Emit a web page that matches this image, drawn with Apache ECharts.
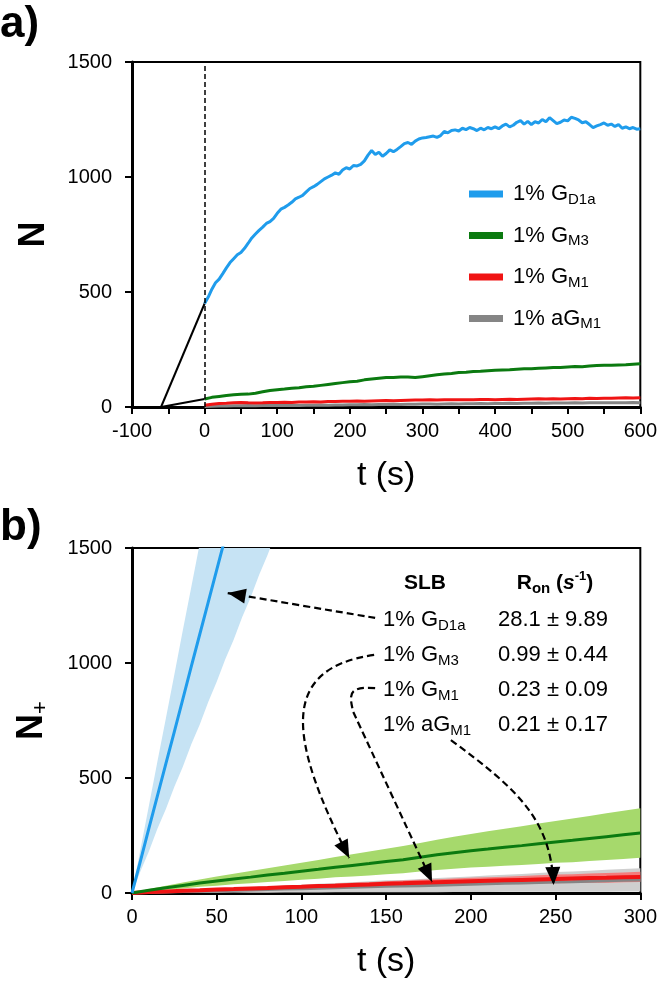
<!DOCTYPE html>
<html><head><meta charset="utf-8">
<script src="https://cdn.jsdelivr.net/npm/echarts@6/dist/echarts.min.js"></script>
<style>html,body{margin:0;padding:0;background:#fff}#c{width:660px;height:984px}</style>
</head><body><div id="c"></div><script>
const FONT = '"Liberation Sans", Arial, Helvetica, sans-serif';

// ---------- Panel a) : N vs t, t from 0 s ----------
const aStepBlue = 5;   // s between samples of the GD1a trace
const aStep = 10;      // s between samples of the other traces
const aGD1a = [450,478,512,540,556,580,605,628,645,662,
  672,690,712,735,752,768,782,798,806,820,
  842,860,868,878,890,905,912,920,935,950,
  958,968,980,992,1000,1008,1018,1012,1030,1040,
  1035,1050,1048,1055,1070,1095,1115,1098,1108,1090,
  1102,1118,1110,1120,1132,1145,1150,1142,1156,1165,
  1170,1172,1175,1178,1172,1180,1198,1192,1202,1205,
  1200,1212,1206,1215,1210,1202,1212,1205,1215,1210,
  1218,1210,1222,1230,1218,1225,1238,1245,1230,1242,
  1228,1240,1235,1250,1240,1258,1245,1232,1238,1248,
  1244,1260,1255,1248,1236,1240,1228,1215,1222,1228,
  1235,1225,1230,1220,1228,1212,1218,1210,1215,1208,
  1210];
const aGM3 = [35,42,46,50,53,55,56,60,66,72,
  75,78,82,84,88,90,94,98,102,106,
  110,112,118,122,125,128,128,130,130,128,
  132,136,140,143,146,150,151,154,155,158,
  160,161,162,164,166,166,168,170,172,172,
  174,176,175,178,180,181,182,183,184,186,
  188];
const aGM1 = [8,12,15,16,18,20,18,17,18,20,
  20,21,20,22,22,23,22,24,24,25,
  25,26,25,26,27,28,27,28,29,30,
  30,31,30,31,32,32,31,32,33,33,
  32,33,34,33,34,35,36,35,36,35,
  36,37,36,38,37,38,38,39,40,39,
  40];
const aAGM1 = [2,3,4,4,5,5,6,5,6,6,
  7,7,8,7,8,8,9,8,9,9,
  10,10,11,10,11,11,12,11,12,12,
  13,13,12,13,14,13,14,14,15,14,
  15,15,16,15,16,16,17,16,17,17,
  17,18,17,18,18,19,18,19,19,20,
  19];
const aFitGD1a = [[-60,0],[0,450]];
const aFitGM3 = [[-60,0],[0,35]];

// ---------- Panel b) : N+ vs t ----------
const bStep = 10;
const bStepBlue = 5;
const bGD1aMean = [0,140,282,422,562,702,843,985,1125,1265,1405,1545];
const bGD1aLow  = [0,95,181,279,365,462,549,647,733,830,918,1015,1101,1199,1285,1383,1470,1566];
const bGD1aHigh = [0,190,380,572,760,950,1142,1330,1520,1710,1900,2090,2280,2470,2660,2850,3040,3230];
const bGM3Mean = [0,12,23,33,43,52,61,69,78,86,95,103,112,120,128,137,145,155,166,175,184,191,199,206,214,222,229,237,245,253,261];
const bGM3Err  = [0,5,9,13,16,20,23,27,30,34,37,41,44,48,52,55,59,62,66,70,73,77,80,84,88,91,95,98,102,105,108];
const bGM1Mean = [0,4,7,10,12,15,17,20,22,25,27,30,32,35,37,40,42,45,47,49,51,53,55,57,59,61,63,65,66,68,70];
const bGM1Err  = [0,1,2,2,3,4,5,5,6,7,7,8,9,10,10,11,12,13,13,14,15,16,16,17,18,19,19,20,21,21,22];
const bAGM1Mean = [0,2,4,6,8,10,12,13,15,17,19,21,23,25,27,29,30,32,34,36,38,40,42,44,46,48,49,51,53,55,57];
const bAGM1Err  = [0,2,3,5,7,9,10,12,14,15,17,19,20,22,24,26,27,29,31,32,34,36,37,39,41,43,44,46,48,49,51];

// labels
const seriesKeys = ['GD1a','GM3','GM1','aGM1'];
const labelMain = ['1% G','1% G','1% G','1% aG'];
const labelSub  = ['D1a','M3','M1','M1'];
const rateText  = ['28.1 \u00b1 9.89','0.99 \u00b1 0.44','0.23 \u00b1 0.09','0.21 \u00b1 0.17'];
const colors = {GD1a:'#1f9cec', GM3:'#0b7a10', GM1:'#f01414', aGM1:'#858585'};
const bandColors = {GD1a:'#c6e3f4', GM3:'#a6d96c', GM1:'#f47c7c', aGM1:'#cfcfcf'};

// annotation arrows of panel b (data units: cubic segments [p0,c1,c2,p1])
const bArrows = [
  [[[143.5,1196],[143.5,1196],[56.5,1304],[56.5,1304]]],
  [[[142.9,1035],[86,975],[92.9,665],[128.2,152]]],
  [[[143.5,891],[127.1,900],[128.2,861],[130.6,787]],
   [[130.6,787],[130.6,787],[177.1,48],[177.1,48]]],
  [[[188.2,665],[228.2,448],[247.1,317],[248.8,35]]]
];

function pairs(arr, step){ return arr.map((v,i)=>[i*step, v]); }

const chart = echarts.init(document.getElementById('c'), null, {renderer:'canvas'});

const axisLine = {onZero:false, lineStyle:{color:'#000', width:3}};
const tick = {length:7, lineStyle:{color:'#000', width:2}};
const lbl = {fontSize:20, color:'#000', fontFamily:FONT, formatter:(v)=>String(v)};

const rich = {
  m:{fontSize:22, fontFamily:FONT, color:'#000', lineHeight:26, verticalAlign:'middle'},
  s:{fontSize:15, fontFamily:FONT, color:'#000', lineHeight:12, verticalAlign:'bottom'}
};

const series = [];
// panel a
series.push({name:'fit1', type:'line', xAxisIndex:0, yAxisIndex:0, data:aFitGD1a, symbol:'none', silent:true,
  lineStyle:{color:'#000', width:2}, z:1,
  markLine:{silent:true, symbol:['none','none'], label:{show:false}, lineStyle:{color:'#000', width:1.5, type:[5,3]},
    data:[{xAxis:0}]}});
series.push({name:'fit2', type:'line', xAxisIndex:0, yAxisIndex:0, data:aFitGM3, symbol:'none', silent:true,
  lineStyle:{color:'#000', width:2}, z:1});
const aData = {GD1a:pairs(aGD1a,aStepBlue), GM3:pairs(aGM3,aStep), GM1:pairs(aGM1,aStep), aGM1:pairs(aAGM1,aStep)};
['aGM1','GM1','GM3','GD1a'].forEach(k=>{
  series.push({name:k, type:'line', xAxisIndex:0, yAxisIndex:0, data:aData[k], symbol:'none',
    color:colors[k], itemStyle:{color:colors[k]}, lineStyle:{color:colors[k], width:3}, z:3});
});

// panel b bands (error bars) & mean lines
function band(key, low, high, step){
  const up = pairs(high, step), lo = pairs(low, step).reverse();
  series.push({name:'b-'+key+'-band', type:'custom', xAxisIndex:1, yAxisIndex:1, clip:true, silent:true, z:2,
    data:[[0,0]],
    renderItem:(params, api)=>({type:'polygon', shape:{points:up.concat(lo).map(p=>api.coord(p))},
      style:{fill:bandColors[key], stroke:'none'}})});
}
function meanLine(key, mean, step, w){
  series.push({name:'b-'+key, type:'line', xAxisIndex:1, yAxisIndex:1, data:pairs(mean, step), symbol:'none',
    silent:true, lineStyle:{color:colors[key], width:w}, z:3});
}
const bLow = (m,e)=>m.map((v,i)=>v-e[i]);
const bHigh = (m,e)=>m.map((v,i)=>v+e[i]);
band('aGM1', bLow(bAGM1Mean,bAGM1Err), bHigh(bAGM1Mean,bAGM1Err), bStep);
band('GM1', bLow(bGM1Mean,bGM1Err), bHigh(bGM1Mean,bGM1Err), bStep);
band('GM3', bLow(bGM3Mean,bGM3Err), bHigh(bGM3Mean,bGM3Err), bStep);
band('GD1a', bGD1aLow, bGD1aHigh, bStepBlue);
meanLine('aGM1', bAGM1Mean, bStep, 3);
meanLine('GM1', bGM1Mean, bStep, 4);
meanLine('GM3', bGM3Mean, bStep, 3);
meanLine('GD1a', bGD1aMean, bStepBlue, 3);

series.push({
  type:'custom', xAxisIndex:1, yAxisIndex:1, clip:false, silent:true, z:10,
  data: bArrows.map(a=>a[0][0]),
  renderItem:(params, api)=>{
    const segs = bArrows[params.dataIndex];
    const children = [];
    let from, tip;
    segs.forEach(s=>{
      const p = s.map(q=>api.coord(q));
      children.push({type:'bezierCurve', shape:{x1:p[0][0],y1:p[0][1],cpx1:p[1][0],cpy1:p[1][1],cpx2:p[2][0],cpy2:p[2][1],x2:p[3][0],y2:p[3][1]},
        style:{stroke:'#000', lineWidth:2.2, lineDash:[7,4], fill:'none'}});
      from = (Math.abs(p[2][0]-p[3][0])<0.01 && Math.abs(p[2][1]-p[3][1])<0.01) ? p[0] : p[2];
      tip = p[3];
    });
    const dx = tip[0]-from[0], dy = tip[1]-from[1], L = Math.hypot(dx,dy);
    const ux = dx/L, uy = dy/L, hl = 18, hw = 7.5;
    const bx = tip[0]-ux*hl, by = tip[1]-uy*hl;
    children.push({type:'polygon', shape:{points:[[tip[0],tip[1]],[bx-uy*hw,by+ux*hw],[bx+uy*hw,by-ux*hw]]}, style:{fill:'#000'}});
    return {type:'group', children};
  }
});

const graphics = [
  {type:'text', left:0, top:3, style:{text:'a)', fontSize:44, fontWeight:'bold', fontFamily:FONT, fill:'#000'}},
  {type:'text', left:0, top:506, style:{text:'b)', fontSize:44, fontWeight:'bold', fontFamily:FONT, fill:'#000'}},
  {type:'text', x:425, y:583, style:{text:'SLB', fontSize:21, fontWeight:'bold', fontFamily:FONT, fill:'#000', align:'center', verticalAlign:'middle'}},
  {type:'text', x:555, y:583, style:{text:'{b|R}{bs|on}{b| (}{bi|s}{bp|-1}{b|)}', align:'center', verticalAlign:'middle',
    rich:{b:{fontSize:21, fontWeight:'bold', fontFamily:FONT, fill:'#000', lineHeight:26, verticalAlign:'middle'},
          bi:{fontSize:21, fontWeight:'bold', fontStyle:'italic', fontFamily:FONT, fill:'#000', lineHeight:26, verticalAlign:'middle'},
          bs:{fontSize:15, fontWeight:'bold', fontFamily:FONT, fill:'#000', lineHeight:12, verticalAlign:'bottom'},
          bp:{fontSize:13, fontWeight:'bold', fontFamily:FONT, fill:'#000', lineHeight:12, verticalAlign:'top'}}}}
];
seriesKeys.forEach((k,i)=>{
  graphics.push({type:'text', x:383, y:620+35*i, style:{text:'{m|'+labelMain[i]+'}{s|'+labelSub[i]+'}', verticalAlign:'middle', rich}});
  graphics.push({type:'text', x:498, y:620+35*i, style:{text:rateText[i], fontSize:22, fontFamily:FONT, fill:'#000', verticalAlign:'middle'}});
});

chart.setOption({
  animation:false,
  backgroundColor:'#fff',
  textStyle:{fontFamily:FONT},
  grid:[
    {left:132, top:62, width:510, height:345, show:true, borderColor:'#000', borderWidth:2, backgroundColor:'transparent'},
    {left:132, top:548, width:510, height:345, show:true, borderColor:'#000', borderWidth:2, backgroundColor:'transparent'}
  ],
  legend:{
    data:seriesKeys, orient:'vertical', left:464, top:178, itemWidth:34, itemHeight:7, itemGap:17.5, icon:'rect',
    selectedMode:false,
    formatter:(name)=>{const i=seriesKeys.indexOf(name); return '{m|'+labelMain[i]+'}{s|'+labelSub[i]+'}';},
    textStyle:{rich, padding:[0,0,0,5]}
  },
  xAxis:[
    {gridIndex:0, type:'value', min:-100, max:600, interval:100, axisLine, axisTick:tick,
     minorTick:{show:true, splitNumber:2, length:7, lineStyle:{color:'#000', width:2}},
     axisLabel:{...lbl, margin:14}, splitLine:{show:false}, minorSplitLine:{show:false},
     name:'t (s)', nameLocation:'middle', nameGap:52, nameTextStyle:{fontSize:34, color:'#000', fontFamily:FONT}},
    {gridIndex:1, type:'value', min:0, max:300, interval:50, axisLine, axisTick:tick,
     axisLabel:{...lbl, margin:14}, splitLine:{show:false},
     name:'t (s)', nameLocation:'middle', nameGap:52, nameTextStyle:{fontSize:34, color:'#000', fontFamily:FONT}}
  ],
  yAxis:[
    {gridIndex:0, type:'value', min:0, max:1500, interval:500, axisLine, axisTick:tick,
     axisLabel:{...lbl, margin:20}, splitLine:{show:false},
     name:'N', nameLocation:'middle', nameGap:80, nameRotate:90,
     nameTextStyle:{fontSize:36, fontWeight:'bold', color:'#000', fontFamily:FONT}},
    {gridIndex:1, type:'value', min:0, max:1500, interval:500, axisLine, axisTick:tick,
     axisLabel:{...lbl, margin:20}, splitLine:{show:false},
     name:'{n|N}{p|+}', nameLocation:'middle', nameGap:80, nameRotate:90,
     nameTextStyle:{color:'#000', fontFamily:FONT, rich:{
       n:{fontSize:36, fontWeight:'bold', fontFamily:FONT, color:'#000', lineHeight:40, verticalAlign:'middle'},
       p:{fontSize:22, fontFamily:FONT, color:'#000', lineHeight:20, verticalAlign:'bottom'}}}}
  ],
  graphic:graphics,
  series
});
</script></body></html>
